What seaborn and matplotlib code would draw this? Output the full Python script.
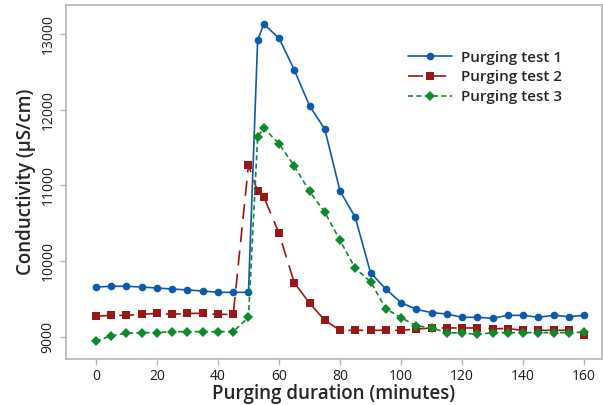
import numpy as np
import pandas as pd
import matplotlib
matplotlib.use("Agg")
import matplotlib.pyplot as plt
import seaborn as sns

# ---------------- DATA ----------------
minutes = [0, 5, 10, 15, 20, 25, 30, 35, 40, 45, 50, 53, 55, 60, 65, 70, 75, 80, 85,
           90, 95, 100, 105, 110, 115, 120, 125, 130, 135, 140, 145, 150, 155, 160]

test1 = [9656, 9666, 9666, 9656, 9643, 9630, 9617, 9604, 9586, 9586, 9586, 12915, 13131,
         12946, 12527, 12051, 11744, 10925, 10577, 9845, 9630, 9449, 9362, 9317, 9300,
         9256, 9256, 9243, 9282, 9282, 9256, 9282, 9265, 9282]

test2 = [9269, 9282, 9282, 9295, 9308, 9295, 9308, 9308, 9295, 9295, 11268, 10921, 10850,
         10366, 9713, 9445, 9217, 9084, 9084, 9084, 9084, 9084, 9101, 9115, 9115, 9115,
         9115, 9106, 9106, 9084, 9084, 9084, 9084, 9022]

test3 = [8939, 9013, 9044, 9053, 9053, 9066, 9066, 9066, 9066, 9066, 9256, 11638, 11757,
         11550, 11255, 10921, 10647, 10273, 9903, 9727, 9370, 9251, 9145, 9115, 9053,
         9048, 9031, 9053, 9053, 9053, 9053, 9053, 9053, 9060]

labels = ["Purging test 1", "Purging test 2", "Purging test 3"]

# ---------------- STYLE ----------------
sns.set_style("white")
plt.rcParams["font.family"] = ["Open Sans", "DejaVu Sans"]

fig = plt.figure(figsize=(6.03, 4.05), dpi=100)
ax = fig.add_axes([0.1095, 0.1136, 0.889, 0.874])

series = [
    (test1, "#0d5aad", "o", (None, None)),
    (test2, "#9b1616", "s", (9, 5)),
    (test3, "#0c8a2c", "D", (3, 2)),
]

for (vals, color, marker, dash), label in zip(series, labels):
    df = pd.DataFrame({"minutes": minutes, "value": vals})
    sns.lineplot(data=df, x="minutes", y="value", ax=ax, color=color,
                 marker=marker, markersize=5.5, markeredgewidth=0,
                 linewidth=1.2, label=label)
    line = ax.lines[-1]
    if dash[0] is not None:
        line.set_dashes(dash)

ax.set_xlim(-9.8, 165.9)
ax.set_ylim(8705, 13383)
ax.set_xticks(np.arange(0, 161, 20))
ax.set_yticks([9000, 10000, 11000, 12000, 13000])

for side in ["left", "bottom", "top", "right"]:
    ax.spines[side].set_color("#b4b4b4")
    ax.spines[side].set_linewidth(1.2)

ax.tick_params(axis="both", direction="out", length=4, width=1, color="#b4b4b4",
               labelsize=10, labelcolor="#1a1a1a", bottom=True, left=True)
ax.tick_params(axis="y", labelrotation=90)
for t in ax.get_yticklabels():
    t.set_va("center")

ax.set_xlabel("Purging duration (minutes)", fontsize=13.5, fontweight="semibold",
              labelpad=0)
ax.set_ylabel("Conductivity (µS/cm)", fontsize=13.5, fontweight="semibold",
              labelpad=3)

leg = ax.legend(loc="upper left", bbox_to_anchor=(0.612, 0.91), frameon=False,
                fontsize=11, handlelength=2.9, labelspacing=0.38, handletextpad=0.6)
for t in leg.get_texts():
    t.set_fontweight("semibold")

fig.savefig("out.png", dpi=100)
